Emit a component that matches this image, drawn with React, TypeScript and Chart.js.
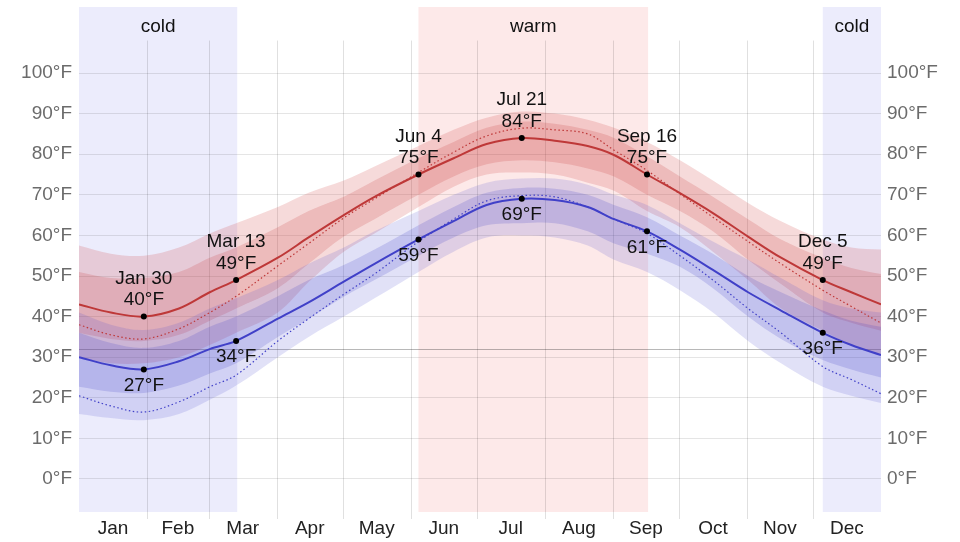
import { useEffect, useRef } from 'react';
import { Chart, registerables } from 'chart.js';

Chart.register(...registerables);

// Day of year (Jan 1 = 0, end of Dec 31 = 365)
const days = [0, 14.5, 29.5, 45.5, 59.5, 71.5, 90.5, 104.5, 120.5, 134.5, 154.5, 170.5, 185.5, 201.5, 216.5, 231.5, 243.5, 258.5, 273.5, 288.5, 304.5, 319.5, 338.5, 351.5, 365];

const avgHigh = [43, 41, 40, 42, 46, 49, 54.5, 59.5, 65, 69.5, 75, 79, 82.5, 84, 83.3, 82, 79.8, 75, 70.4, 65.5, 59.7, 54.5, 49, 46, 43];
const avgLow = [30, 28, 27, 29, 32, 34, 39.5, 43.5, 48.6, 53, 59, 63.5, 67.5, 69, 68.7, 67, 64, 61, 56.5, 51.5, 46, 41.5, 36, 33, 30.5];
const perceivedHigh = [38, 35.5, 34.5, 37, 41, 45, 52.5, 58, 64.3, 69, 75.5, 80.5, 84.5, 86.4, 86, 85, 81, 76, 70.2, 64.5, 58.5, 53, 46.5, 42.5, 38.4];
const perceivedLow = [20.5, 18, 16.5, 19, 22.7, 25.6, 34, 39.5, 45.5, 50.5, 58.5, 64, 68.5, 69.8, 69.5, 67, 64, 60.5, 55, 49, 42, 36, 27.7, 24.5, 21];

const high90 = [57.5, 55.5, 55, 57, 60.5, 63, 67, 70.5, 73.5, 77, 82, 86, 89, 90.5, 90, 88.5, 86.5, 83, 78.5, 73.5, 68, 63.5, 59, 57, 56.5];
const high75 = [51, 49.5, 49.5, 51, 54.5, 57, 62, 66, 69.5, 73.5, 79, 83, 86.5, 88, 87.5, 86, 84, 79.5, 74.5, 69.5, 64, 59, 54.5, 52, 50.5];
const high25 = [36, 34.5, 34, 35.5, 39, 42, 47, 53, 59.7, 64, 70, 74.5, 77.5, 78.5, 78, 76.5, 74.5, 70, 66, 61, 54, 48, 41, 38.5, 36.5];
const high10 = [30, 28.5, 28.5, 30, 33, 36, 41, 48.5, 56, 60.5, 67, 72, 75, 75.5, 75, 73, 71, 66, 62, 56, 49, 42, 36.5, 33, 30.5];

const low90 = [41, 38, 36.7, 38.5, 42, 44.5, 49, 53, 57, 61, 66, 70, 73, 74, 74, 72.5, 70, 67.5, 63, 58.5, 54, 49.5, 44, 42, 41];
const low75 = [36, 33.5, 32.3, 34, 37.5, 40, 45, 49, 52.7, 56.5, 62.5, 67, 70.5, 71.7, 71.5, 70, 67.5, 64.5, 60, 55.5, 50, 46, 41.5, 39, 37.5];
const low25 = [22.7, 21.5, 21.2, 23, 26, 28.5, 35, 39.5, 44.9, 49, 55, 59.5, 62.5, 63, 63, 61, 58, 55.5, 52.3, 47, 40, 34.5, 29.3, 27, 25];
const low10 = [16, 15, 14.5, 16, 19.5, 23, 30, 35, 40, 44.5, 51, 56, 59.5, 60, 59.5, 57.5, 54, 51, 46.5, 41, 34, 28.5, 22.7, 20.5, 18.7];

const highlightIdx = [2, 5, 10, 13, 17, 22];
const highlightNames = ['Jan 30', 'Mar 13', 'Jun 4', 'Jul 21', 'Sep 16', 'Dec 5'];

const months = ['Jan', 'Feb', 'Mar', 'Apr', 'May', 'Jun', 'Jul', 'Aug', 'Sep', 'Oct', 'Nov', 'Dec'];
const monthStarts = [0, 31, 59, 90, 120, 151, 181, 212, 243, 273, 304, 334, 365];
const tempTicks = [0, 10, 20, 30, 40, 50, 60, 70, 80, 90, 100];

const seasonNames = ['cold', 'warm', 'cold'];
const seasonStart = [0, 154.5, 338.5];
const seasonEnd = [72, 259, 365];
const freezing = 32;

const FONT = '"Liberation Sans", Arial, Helvetica, sans-serif';
const RED = 'rgb(190,56,56)';
const BLUE = 'rgb(64,64,200)';

const pts = (arr: number[]) => days.map((d, i) => ({ x: d, y: arr[i] }));

const decor = {
  id: 'decor',
  beforeDraw(chart: any) {
    const { ctx, chartArea, scales } = chart;
    const { top, bottom } = chartArea;
    const x = scales.x;
    const y = scales.y;
    ctx.save();
    for (let i = 0; i < seasonNames.length; i++) {
      const x0 = x.getPixelForValue(seasonStart[i]);
      const x1 = x.getPixelForValue(seasonEnd[i]);
      ctx.fillStyle = seasonNames[i] === 'warm' ? '#fde9e9' : '#ececfc';
      ctx.fillRect(x0, top, x1 - x0, bottom - top);
      ctx.fillStyle = '#111';
      ctx.font = `19px ${FONT}`;
      ctx.textAlign = 'center';
      ctx.textBaseline = 'middle';
      ctx.fillText(seasonNames[i], (x0 + x1) / 2, top + 19.5);
    }
    const gTop = y.getPixelForValue(108);
    ctx.strokeStyle = 'rgba(0,0,0,0.12)';
    ctx.lineWidth = 1;
    for (let i = 1; i < monthStarts.length - 1; i++) {
      const px = Math.round(x.getPixelForValue(monthStarts[i])) + 0.5;
      ctx.beginPath();
      ctx.moveTo(px, gTop);
      ctx.lineTo(px, bottom + 7);
      ctx.stroke();
    }
    ctx.restore();
  },
  beforeDatasetsDraw(chart: any) {
    const { ctx, chartArea, scales } = chart;
    const py = Math.round(scales.y.getPixelForValue(freezing)) + 0.5;
    ctx.save();
    ctx.strokeStyle = 'rgba(0,0,0,0.28)';
    ctx.lineWidth = 1;
    ctx.beginPath();
    ctx.moveTo(chartArea.left, py);
    ctx.lineTo(chartArea.right, py);
    ctx.stroke();
    ctx.restore();
  },
  afterDatasetsDraw(chart: any) {
    const { ctx, scales } = chart;
    const x = scales.x;
    const y = scales.y;
    ctx.save();
    ctx.font = `19px ${FONT}`;
    ctx.fillStyle = '#111';
    ctx.textAlign = 'center';
    ctx.textBaseline = 'middle';
    highlightIdx.forEach((idx, i) => {
      const px = x.getPixelForValue(days[idx]);
      const ph = y.getPixelForValue(avgHigh[idx]);
      const pl = y.getPixelForValue(avgLow[idx]);
      ctx.fillText(highlightNames[i], px, ph - 38);
      ctx.fillText(`${Math.round(avgHigh[idx])}°F`, px, ph - 16.5);
      ctx.fillText(`${Math.round(avgLow[idx])}°F`, px, pl + 16);
    });
    ctx.restore();
  },
};

export default function App() {
  const ref = useRef<HTMLCanvasElement | null>(null);

  useEffect(() => {
    if (!ref.current) return;
    const band = (arr: number[], order: number, fill: any, color: string) => ({
      data: pts(arr),
      borderWidth: 0,
      pointRadius: 0,
      borderColor: 'transparent',
      backgroundColor: color,
      fill,
      order,
      tension: 0.35,
    });
    const yFit = (s: any) => {
      s.width = 79;
      s.paddingTop = 0;
      s.paddingBottom = 0;
    };
    const chart = new Chart(ref.current, {
      type: 'line',
      data: {
        datasets: [
          { data: pts(avgHigh), borderColor: RED, borderWidth: 2, pointRadius: 0, fill: false, order: 0, tension: 0.35 },
          { data: pts(avgLow), borderColor: BLUE, borderWidth: 2, pointRadius: 0, fill: false, order: 0, tension: 0.35 },
          { data: pts(perceivedHigh), borderColor: RED, borderWidth: 1.2, borderDash: [1.5, 2.5], pointRadius: 0, fill: false, order: 1, tension: 0.35 },
          { data: pts(perceivedLow), borderColor: BLUE, borderWidth: 1.2, borderDash: [1.5, 2.5], pointRadius: 0, fill: false, order: 1, tension: 0.35 },
          { data: highlightIdx.map((i) => ({ x: days[i], y: avgHigh[i] })), showLine: false, pointRadius: 3, pointBackgroundColor: '#000', pointBorderWidth: 0, order: -1 },
          { data: highlightIdx.map((i) => ({ x: days[i], y: avgLow[i] })), showLine: false, pointRadius: 3, pointBackgroundColor: '#000', pointBorderWidth: 0, order: -1 },
          band(high90, 10, false, 'transparent'),
          band(high10, 10, 6, 'rgba(210,70,70,0.2)'),
          band(high75, 9, false, 'transparent'),
          band(high25, 9, 8, 'rgba(200,60,60,0.2)'),
          band(low90, 8, false, 'transparent'),
          band(low10, 8, 10, 'rgba(80,80,210,0.17)'),
          band(low75, 7, false, 'transparent'),
          band(low25, 7, 12, 'rgba(70,70,200,0.2)'),
        ] as any,
      },
      options: {
        animation: false,
        responsive: true,
        maintainAspectRatio: false,
        layout: { padding: { top: 7, left: 0, right: 0, bottom: 0 } },
        plugins: { legend: { display: false }, tooltip: { enabled: false } },
        events: [],
        scales: {
          x: {
            type: 'linear',
            min: 0,
            max: 365,
            afterBuildTicks: (s: any) => {
              s.ticks = months.map((_, i) => ({ value: (monthStarts[i] + monthStarts[i + 1]) / 2 }));
            },
            afterFit: (s: any) => {
              s.height = 30;
              s.paddingLeft = 0;
              s.paddingRight = 0;
            },
            grid: { display: false, drawTicks: false },
            border: { display: false },
            ticks: {
              autoSkip: false,
              maxRotation: 0,
              padding: 5,
              color: '#222',
              font: { size: 19, family: FONT },
              callback: (_v: any, i: number) => months[i],
            },
          },
          y: {
            position: 'left',
            min: -8.13,
            max: 116.26,
            afterBuildTicks: (s: any) => { s.ticks = tempTicks.map((v) => ({ value: v })); },
            afterFit: yFit,
            grid: { color: 'rgba(0,0,0,0.1)', drawTicks: false },
            border: { display: false },
            ticks: {
              padding: 7,
              color: '#6b6b6b',
              font: { size: 19, family: FONT },
              callback: (v: any) => `${v}°F`,
            },
          },
          y2: {
            position: 'right',
            min: -8.13,
            max: 116.26,
            afterBuildTicks: (s: any) => { s.ticks = tempTicks.map((v) => ({ value: v })); },
            afterFit: yFit,
            grid: { display: false, drawTicks: false },
            border: { display: false },
            ticks: {
              padding: 6,
              color: '#6b6b6b',
              font: { size: 19, family: FONT },
              callback: (v: any) => `${v}°F`,
            },
          },
        },
      } as any,
      plugins: [decor],
    });
    return () => chart.destroy();
  }, []);

  return (
    <div style={{ position: 'fixed', left: 0, top: 0, width: 960, height: 542, background: '#fff' }}>
      <canvas ref={ref} />
    </div>
  );
}
